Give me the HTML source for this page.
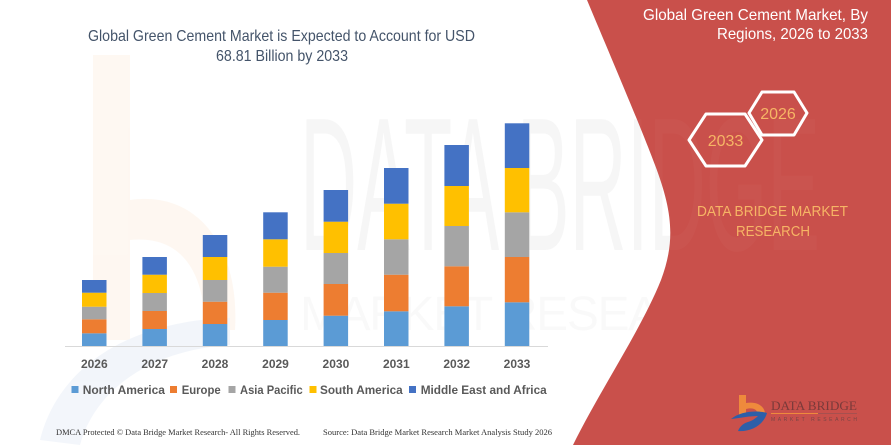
<!DOCTYPE html>
<html>
<head>
<meta charset="utf-8">
<style>
  html, body { margin:0; padding:0; background:#ffffff; }
  body { width:891px; height:445px; overflow:hidden; }
  svg { display:block; }
  text { font-family: "Liberation Sans", "DejaVu Sans", sans-serif; }
</style>
</head>
<body>
<svg width="891" height="445" viewBox="0 0 891 445" xmlns="http://www.w3.org/2000/svg">
  <rect x="0" y="0" width="891" height="445" fill="#ffffff"/>

  <!-- faint watermark logo (left) -->
  <g opacity="0.06">
    <rect x="93" y="55" width="37" height="285" fill="#F08A24"/>
    <path d="M130 200 C 200 190, 240 250, 235 330 L 205 330 C 205 270, 180 235, 130 240 Z" fill="#F08A24"/>
    <path d="M40 440 C 60 360, 140 320, 230 318 L 230 345 C 150 350, 95 390, 80 445 Z" fill="#2F6DB5"/>
  </g>
  <!-- faint watermark text -->
  <text x="300" y="250" font-size="190" fill="#000" opacity="0.03" textLength="520" lengthAdjust="spacingAndGlyphs">DATA BRIDGE</text>
  <text x="300" y="330" font-size="48" fill="#000" opacity="0.02" textLength="460" lengthAdjust="spacing">MARKET RESEARCH</text>

  <!-- red panel -->
  <path d="M587,0 C 610,55 640,125 655,165 C 672,210 676,240 661,280 C 641,330 600,390 573,445 L891,445 L891,0 Z" fill="#C9504B"/>
  <!-- watermark visible over red -->
  <text x="300" y="250" font-size="190" fill="#fff" opacity="0.025" textLength="520" lengthAdjust="spacingAndGlyphs">DATA BRIDGE</text>

  <!-- left title -->
  <text x="88" y="41" font-size="16" fill="#44546A" textLength="387" lengthAdjust="spacingAndGlyphs">Global Green Cement Market is Expected to Account for USD</text>
  <text x="216" y="61" font-size="16" fill="#44546A" textLength="132" lengthAdjust="spacingAndGlyphs">68.81 Billion by 2033</text>

  <!-- right title -->
  <text x="643" y="20" font-size="16" fill="#ffffff" textLength="225" lengthAdjust="spacingAndGlyphs">Global Green Cement Market, By</text>
  <text x="717" y="39" font-size="16" fill="#ffffff" textLength="151" lengthAdjust="spacingAndGlyphs">Regions, 2026 to 2033</text>

  <!-- hexagons -->
  <polygon points="689,140 706,114 745,114 762,140 745,166 706,166" fill="none" stroke="#ffffff" stroke-width="3" stroke-linejoin="round"/>
  <polygon points="749,113 762,92 794,92 807,113 794,135 762,135" fill="none" stroke="#ffffff" stroke-width="3" stroke-linejoin="round"/>
  <text x="725.5" y="146" font-size="16" fill="#F6B565" text-anchor="middle">2033</text>
  <text x="778" y="119" font-size="16" fill="#F6B565" text-anchor="middle">2026</text>

  <!-- DATA BRIDGE MARKET RESEARCH -->
  <text x="697" y="216" font-size="15" fill="#F6B565" textLength="151" lengthAdjust="spacingAndGlyphs">DATA BRIDGE MARKET</text>
  <text x="736" y="236" font-size="15" fill="#F6B565" textLength="74" lengthAdjust="spacingAndGlyphs">RESEARCH</text>

  <!-- axis -->
  <line x1="65" y1="346.5" x2="548" y2="346.5" stroke="#D9D9D9" stroke-width="1"/>

  <!-- bars -->
  <g>
    <!-- 2026 -->
    <rect x="82" y="333.3" width="24.5" height="12.7" fill="#5B9BD5"/>
    <rect x="82" y="319.3" width="24.5" height="14" fill="#ED7D31"/>
    <rect x="82" y="306.7" width="24.5" height="12.6" fill="#A5A5A5"/>
    <rect x="82" y="292.7" width="24.5" height="14" fill="#FFC000"/>
    <rect x="82" y="280" width="24.5" height="12.7" fill="#4472C4"/>
    <!-- 2027 -->
    <rect x="142.4" y="329" width="24.5" height="17" fill="#5B9BD5"/>
    <rect x="142.4" y="311" width="24.5" height="18" fill="#ED7D31"/>
    <rect x="142.4" y="293" width="24.5" height="18" fill="#A5A5A5"/>
    <rect x="142.4" y="274.7" width="24.5" height="18.3" fill="#FFC000"/>
    <rect x="142.4" y="257" width="24.5" height="17.7" fill="#4472C4"/>
    <!-- 2028 -->
    <rect x="202.8" y="324" width="24.5" height="22" fill="#5B9BD5"/>
    <rect x="202.8" y="301.7" width="24.5" height="22.3" fill="#ED7D31"/>
    <rect x="202.8" y="280" width="24.5" height="21.7" fill="#A5A5A5"/>
    <rect x="202.8" y="257" width="24.5" height="23" fill="#FFC000"/>
    <rect x="202.8" y="235" width="24.5" height="22" fill="#4472C4"/>
    <!-- 2029 -->
    <rect x="263.2" y="320" width="24.5" height="26" fill="#5B9BD5"/>
    <rect x="263.2" y="292.7" width="24.5" height="27.3" fill="#ED7D31"/>
    <rect x="263.2" y="266.7" width="24.5" height="26" fill="#A5A5A5"/>
    <rect x="263.2" y="239.3" width="24.5" height="27.4" fill="#FFC000"/>
    <rect x="263.2" y="212.3" width="24.5" height="27" fill="#4472C4"/>
    <!-- 2030 -->
    <rect x="323.6" y="315.7" width="24.5" height="30.3" fill="#5B9BD5"/>
    <rect x="323.6" y="284" width="24.5" height="31.7" fill="#ED7D31"/>
    <rect x="323.6" y="253" width="24.5" height="31" fill="#A5A5A5"/>
    <rect x="323.6" y="221.7" width="24.5" height="31.3" fill="#FFC000"/>
    <rect x="323.6" y="190" width="24.5" height="31.7" fill="#4472C4"/>
    <!-- 2031 -->
    <rect x="384" y="311.3" width="24.5" height="34.7" fill="#5B9BD5"/>
    <rect x="384" y="274.7" width="24.5" height="36.6" fill="#ED7D31"/>
    <rect x="384" y="239.3" width="24.5" height="35.4" fill="#A5A5A5"/>
    <rect x="384" y="203.7" width="24.5" height="35.6" fill="#FFC000"/>
    <rect x="384" y="168" width="24.5" height="35.7" fill="#4472C4"/>
    <!-- 2032 -->
    <rect x="444.4" y="306.3" width="24.5" height="39.7" fill="#5B9BD5"/>
    <rect x="444.4" y="266.3" width="24.5" height="40" fill="#ED7D31"/>
    <rect x="444.4" y="226" width="24.5" height="40.3" fill="#A5A5A5"/>
    <rect x="444.4" y="186" width="24.5" height="40" fill="#FFC000"/>
    <rect x="444.4" y="145" width="24.5" height="41" fill="#4472C4"/>
    <!-- 2033 -->
    <rect x="504.8" y="302.3" width="24.5" height="43.7" fill="#5B9BD5"/>
    <rect x="504.8" y="257" width="24.5" height="45.3" fill="#ED7D31"/>
    <rect x="504.8" y="212.3" width="24.5" height="44.7" fill="#A5A5A5"/>
    <rect x="504.8" y="168" width="24.5" height="44.3" fill="#FFC000"/>
    <rect x="504.8" y="123.3" width="24.5" height="44.7" fill="#4472C4"/>
  </g>

  <!-- year labels -->
  <g font-size="12" font-weight="bold" fill="#595959" text-anchor="middle">
    <text x="94.3" y="368">2026</text>
    <text x="154.7" y="368">2027</text>
    <text x="215" y="368">2028</text>
    <text x="275.5" y="368">2029</text>
    <text x="335.9" y="368">2030</text>
    <text x="396.3" y="368">2031</text>
    <text x="456.7" y="368">2032</text>
    <text x="517" y="368">2033</text>
  </g>

  <!-- legend -->
  <g font-size="12" font-weight="bold" fill="#595959">
    <rect x="71.5" y="386" width="7" height="7" fill="#5B9BD5"/>
    <text x="82.7" y="394">North America</text>
    <rect x="170" y="386" width="7" height="7" fill="#ED7D31"/>
    <text x="181.7" y="394" textLength="39" lengthAdjust="spacingAndGlyphs">Europe</text>
    <rect x="228.5" y="386" width="7" height="7" fill="#A5A5A5"/>
    <text x="240" y="394" textLength="62.7" lengthAdjust="spacingAndGlyphs">Asia Pacific</text>
    <rect x="309.5" y="386" width="7" height="7" fill="#FFC000"/>
    <text x="320" y="394" textLength="82.7" lengthAdjust="spacingAndGlyphs">South America</text>
    <rect x="409" y="386" width="7" height="7" fill="#4472C4"/>
    <text x="420.7" y="394" textLength="126" lengthAdjust="spacingAndGlyphs">Middle East and Africa</text>
  </g>

  <!-- footer -->
  <text x="56" y="435" font-size="8" fill="#333333" style="font-family:'Liberation Serif',serif" textLength="244" lengthAdjust="spacingAndGlyphs">DMCA Protected © Data Bridge Market Research- All Rights Reserved.</text>
  <text x="323" y="435" font-size="8" fill="#333333" style="font-family:'Liberation Serif',serif" textLength="229" lengthAdjust="spacingAndGlyphs">Source: Data Bridge Market Research Market Analysis Study 2026</text>

  <!-- bottom-right logo -->
  <g>
    <rect x="739" y="395" width="7" height="20" fill="#EE8A3C"/>
    <path d="M746 403 C 758 401, 766 407, 765 416 L 758 416 C 758 410, 754 407, 746 409 Z" fill="#EE8A3C"/>
    <path d="M731 419 C 740 411, 758 410, 767 413 C 764 424, 752 432, 738 431 C 740 426, 744 423, 748 422 C 752 421, 756 418, 758 416 C 750 416, 740 418, 731 419 Z" fill="#2D5FA8"/>
    <text x="771" y="410" font-size="13" fill="#7A3A3A" style="font-family:'Liberation Serif',serif" textLength="86" lengthAdjust="spacingAndGlyphs">DATA BRIDGE</text>
    <line x1="771" y1="413.5" x2="818" y2="413.5" stroke="#EE8A3C" stroke-width="1"/>
    <line x1="818" y1="413.5" x2="857" y2="413.5" stroke="#9a5050" stroke-width="0.7"/>
    <text x="771" y="421" font-size="5" fill="#7A4545" textLength="86" lengthAdjust="spacing">MARKET RESEARCH</text>
  </g>
</svg>
</body>
</html>
